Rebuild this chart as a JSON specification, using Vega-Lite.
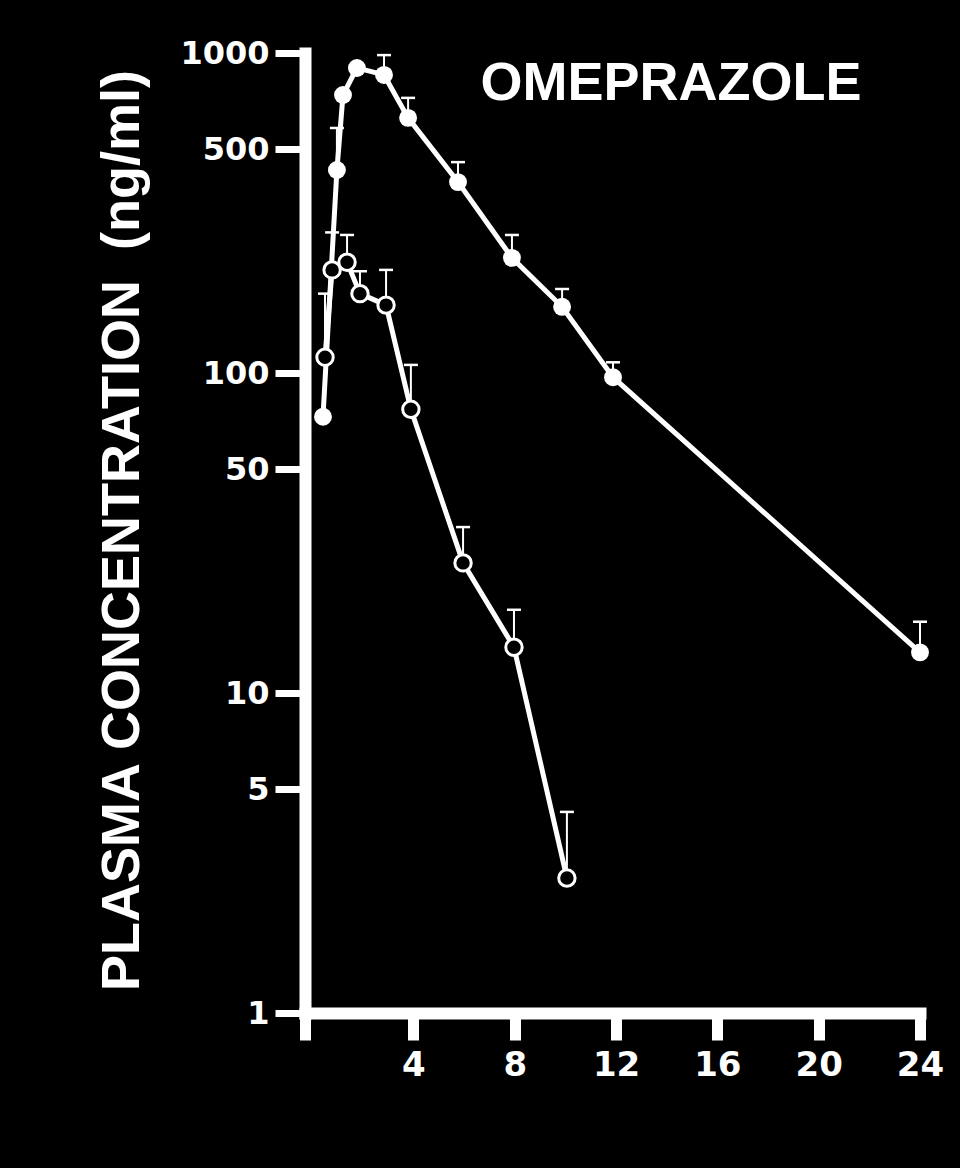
{
  "$schema": "https://vega.github.io/schema/vega-lite/v6.json",
  "width": 615,
  "height": 960,
  "autosize": "none",
  "padding": {"left": 305, "top": 53, "right": 40, "bottom": 155},
  "background": "black",
  "config": {"view": {"stroke": null}, "font": "Liberation Sans"},
  "datasets": {
    "pts": [
      {"series": "filled", "t": 0.43, "v": 73},
      {"series": "filled", "t": 0.98, "v": 431},
      {"series": "filled", "t": 1.22, "v": 739},
      {"series": "filled", "t": 1.77, "v": 898},
      {"series": "filled", "t": 2.84, "v": 854},
      {"series": "filled", "t": 3.79, "v": 627},
      {"series": "filled", "t": 5.76, "v": 395},
      {"series": "filled", "t": 7.89, "v": 229},
      {"series": "filled", "t": 9.87, "v": 161},
      {"series": "filled", "t": 11.88, "v": 97},
      {"series": "filled", "t": 24, "v": 13.4},
      {"series": "open", "t": 0.51, "v": 112},
      {"series": "open", "t": 0.79, "v": 210},
      {"series": "open", "t": 1.38, "v": 222},
      {"series": "open", "t": 1.89, "v": 177},
      {"series": "open", "t": 2.92, "v": 163},
      {"series": "open", "t": 3.9, "v": 77},
      {"series": "open", "t": 5.96, "v": 25.5},
      {"series": "open", "t": 7.97, "v": 13.9},
      {"series": "open", "t": 10.06, "v": 2.64}
    ],
    "errs": [
      {"series": "filled", "t": 0.98, "v": 431, "hi": 583},
      {"series": "filled", "t": 2.84, "v": 854, "hi": 985},
      {"series": "filled", "t": 3.79, "v": 627, "hi": 724},
      {"series": "filled", "t": 5.76, "v": 395, "hi": 456},
      {"series": "filled", "t": 7.89, "v": 229, "hi": 270},
      {"series": "filled", "t": 9.87, "v": 161, "hi": 183},
      {"series": "filled", "t": 11.88, "v": 97, "hi": 108},
      {"series": "filled", "t": 24, "v": 13.4, "hi": 16.7},
      {"series": "open", "t": 0.51, "v": 112, "hi": 177},
      {"series": "open", "t": 0.79, "v": 210, "hi": 275},
      {"series": "open", "t": 1.38, "v": 222, "hi": 270},
      {"series": "open", "t": 1.89, "v": 177, "hi": 208},
      {"series": "open", "t": 2.92, "v": 163, "hi": 210},
      {"series": "open", "t": 3.9, "v": 77, "hi": 106},
      {"series": "open", "t": 5.96, "v": 25.5, "hi": 33},
      {"series": "open", "t": 7.97, "v": 13.9, "hi": 18.2},
      {"series": "open", "t": 10.06, "v": 2.64, "hi": 4.25}
    ]
  },
  "layer": [
    {
      "data": {"name": "errs"},
      "mark": {"type": "rule", "color": "white", "opacity": 1, "strokeWidth": 2},
      "encoding": {
        "x": {
          "field": "t", "type": "quantitative",
          "scale": {"domain": [-0.28, 24], "nice": false, "zero": false},
          "axis": {
            "values": [-0.28, 4, 8, 12, 16, 20, 24],
            "labelExpr": "datum.value < 0 ? '' : datum.label",
            "title": null,
            "grid": false,
            "domainColor": "white", "domainWidth": 12, "domainCap": "square",
            "tickColor": "white", "tickWidth": 11, "tickSize": 27,
            "labelColor": "white", "labelFont": "DejaVu Sans", "labelFontWeight": "bold",
            "labelFontSize": 34, "labelPadding": 8, "labelFlush": false, "labelOverlap": false
          }
        },
        "y": {
          "field": "v", "type": "quantitative",
          "scale": {"type": "log", "domain": [1, 1000], "nice": false},
          "axis": {
            "values": [1, 5, 10, 50, 100, 500, 1000],
            "format": "d",
            "title": "PLASMA CONCENTRATION \u00a0(ng/ml)",
            "titleFont": "Liberation Sans", "titleFontSize": 54, "titleFontWeight": "bold",
            "titleColor": "white", "titleAngle": -90, "titleX": -167, "titleY": 477,
            "titleAlign": "center", "titleBaseline": "alphabetic",
            "grid": false,
            "domainColor": "white", "domainWidth": 12, "domainCap": "square",
            "tickColor": "white", "tickWidth": 7, "tickSize": 30,
            "labelColor": "white", "labelFont": "DejaVu Sans", "labelFontWeight": "bold",
            "labelFontSize": 32, "labelPadding": 6, "labelOverlap": false, "labelFlush": false
          }
        },
        "y2": {"field": "hi"}
      }
    },
    {
      "data": {"name": "errs"},
      "mark": {"type": "tick", "orient": "horizontal", "color": "white", "opacity": 1, "size": 14, "thickness": 2.5},
      "encoding": {
        "x": {"field": "t", "type": "quantitative"},
        "y": {"field": "hi", "type": "quantitative"}
      }
    },
    {
      "data": {"name": "pts"},
      "mark": {"type": "line", "color": "white", "strokeWidth": 5},
      "encoding": {
        "x": {"field": "t", "type": "quantitative"},
        "y": {"field": "v", "type": "quantitative"},
        "detail": {"field": "series"}
      }
    },
    {
      "data": {"name": "pts"},
      "transform": [{"filter": "datum.series === 'filled'"}],
      "mark": {"type": "point", "shape": "circle", "filled": true, "fill": "white", "opacity": 1, "size": 320},
      "encoding": {
        "x": {"field": "t", "type": "quantitative"},
        "y": {"field": "v", "type": "quantitative"}
      }
    },
    {
      "data": {"name": "pts"},
      "transform": [{"filter": "datum.series === 'open'"}],
      "mark": {"type": "point", "shape": "circle", "filled": false, "fill": "black", "fillOpacity": 1, "stroke": "white", "strokeWidth": 3, "opacity": 1, "size": 270},
      "encoding": {
        "x": {"field": "t", "type": "quantitative"},
        "y": {"field": "v", "type": "quantitative"}
      }
    },
    {
      "data": {"values": [{"label": "OMEPRAZOLE"}]},
      "mark": {"type": "text", "color": "white", "font": "Liberation Sans", "fontWeight": "bold", "fontSize": 54, "align": "center", "baseline": "alphabetic"},
      "encoding": {
        "text": {"field": "label"},
        "x": {"datum": 14.17, "type": "quantitative"},
        "y": {"datum": 713, "type": "quantitative"}
      }
    }
  ]
}
